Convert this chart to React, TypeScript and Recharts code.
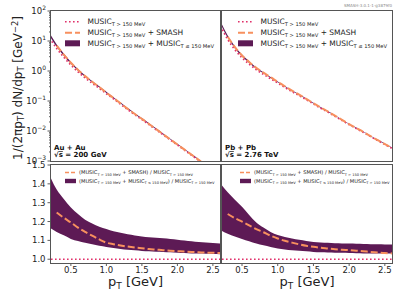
import React from 'react';
import { ComposedChart, Line, Area, XAxis, YAxis, ReferenceLine } from 'recharts';

const pT = [0.2, 0.3, 0.4, 0.5, 0.6, 0.7, 0.8, 0.9, 1.0, 1.1, 1.2, 1.3, 1.4, 1.5, 1.6, 1.7, 1.8, 1.9, 2.0, 2.1, 2.2, 2.3, 2.4, 2.5, 2.6];

const auauMusic = [12.6, 5.62, 2.88, 1.58, 0.933, 0.589, 0.389, 0.263, 0.174, 0.117, 0.0776, 0.0513, 0.0347, 0.024, 0.0162, 0.011, 0.0074, 0.005, 0.0034, 0.00229, 0.00155, 0.00105, 0.00071, 0.00049, 0.00033];
const pbpbMusic = [31.6, 11.2, 5.13, 2.75, 1.7, 1.1, 0.776, 0.55, 0.398, 0.282, 0.204, 0.151, 0.11, 0.0794, 0.0575, 0.0427, 0.0309, 0.0224, 0.0162, 0.012, 0.00891, 0.00646, 0.00479, 0.00355, 0.00263];

const auauSmashRatio = [null, 1.248, 1.22, 1.195, 1.168, 1.145, 1.125, 1.105, 1.088, 1.08, 1.073, 1.067, 1.062, 1.058, 1.054, 1.051, 1.048, 1.045, 1.043, 1.041, 1.039, 1.037, 1.035, 1.034, 1.033];
const auauBandHigh = [1.445, 1.37, 1.32, 1.275, 1.24, 1.21, 1.19, 1.172, 1.16, 1.148, 1.14, 1.132, 1.126, 1.121, 1.117, 1.114, 1.111, 1.108, 1.104, 1.1, 1.096, 1.092, 1.089, 1.086, 1.084];
const auauBandLow = [1.168, 1.145, 1.127, 1.108, 1.097, 1.088, 1.08, 1.071, 1.065, 1.059, 1.054, 1.05, 1.047, 1.044, 1.042, 1.04, 1.039, 1.037, 1.035, 1.033, 1.031, 1.03, 1.029, 1.028, 1.027];

const pbpbSmashRatio = [null, 1.24, 1.218, 1.2, 1.18, 1.16, 1.143, 1.125, 1.11, 1.098, 1.088, 1.079, 1.071, 1.066, 1.061, 1.057, 1.053, 1.05, 1.048, 1.045, 1.042, 1.039, 1.036, 1.033, 1.031];
const pbpbBandHigh = [1.4, 1.355, 1.315, 1.278, 1.235, 1.195, 1.168, 1.145, 1.128, 1.118, 1.11, 1.103, 1.097, 1.092, 1.089, 1.087, 1.085, 1.084, 1.083, 1.082, 1.081, 1.08, 1.079, 1.078, 1.078];
const pbpbBandLow = [1.154, 1.135, 1.12, 1.108, 1.095, 1.083, 1.074, 1.065, 1.057, 1.052, 1.048, 1.045, 1.042, 1.039, 1.037, 1.036, 1.035, 1.034, 1.033, 1.032, 1.031, 1.031, 1.03, 1.03, 1.03];

const xTicks = [0.5, 1.0, 1.5, 2.0, 2.5];
const xTickLabels = ['0.5', '1.0', '1.5', '2.0', '2.5'];
const ratioTicks = [1.0, 1.1, 1.2, 1.3, 1.4, 1.5];
const ratioTickLabels = ['1.0', '1.1', '1.2', '1.3', '1.4', '1.5'];
const logMajorTicks = [0.001, 0.01, 0.1, 1, 10, 100];
const logExponents = ['\u22123', '\u22122', '\u22121', '0', '1', '2'];

const C_DOT = '#e0306a';
const C_DASH = '#f7905e';
const C_BAND = '#5d1a55';
const C_FRAME = '#555';
const C_TEXT = '#222';
const FONT = 'DejaVu Sans';

const logTicks: number[] = [];
logMajorTicks.forEach((m, i) => {
  logTicks.push(m);
  if (i < logMajorTicks.length - 1) {
    for (let k = 2; k <= 9; k++) logTicks.push(+(m * k).toPrecision(3));
  }
});

const spectrumRows = (music: number[], smash: (number | null)[], lo: number[], hi: number[]) =>
  pT.map((x, i) => ({
    pt: x,
    music: music[i],
    smash: smash[i] == null ? null : music[i] * (smash[i] as number),
    band: [music[i] * lo[i], music[i] * hi[i]],
  }));

const ratioRows = (smash: (number | null)[], lo: number[], hi: number[]) =>
  pT.map((x, i) => ({ pt: x, smash: smash[i], band: [lo[i], hi[i]] }));

const auauSpec = spectrumRows(auauMusic, auauSmashRatio, auauBandLow, auauBandHigh);
const pbpbSpec = spectrumRows(pbpbMusic, pbpbSmashRatio, pbpbBandLow, pbpbBandHigh);
const auauRatio = ratioRows(auauSmashRatio, auauBandLow, auauBandHigh);
const pbpbRatio = ratioRows(pbpbSmashRatio, pbpbBandLow, pbpbBandHigh);

const LogTick = (props: any) => {
  const { x, y, payload } = props;
  const v = payload.value;
  const idx = logMajorTicks.findIndex((m) => Math.abs(m - v) < m * 1e-6);
  const major = idx >= 0;
  return (
    <g>
      <line x1={x} x2={x - (major ? 3.5 : 2)} y1={y} y2={y} stroke="#333" strokeWidth={0.8} />
      {major && (
        <text x={x - 5} y={y + 3.2} textAnchor="end" fontSize={8.5} fill={C_TEXT} fontFamily={FONT}>
          10<tspan fontSize={6} dy={-4}>{logExponents[idx]}</tspan>
        </text>
      )}
    </g>
  );
};

const RatioYTick = (props: any) => {
  const { x, y, payload } = props;
  const idx = ratioTicks.findIndex((t) => Math.abs(t - payload.value) < 1e-6);
  return (
    <g>
      <line x1={x} x2={x - 3.5} y1={y} y2={y} stroke="#333" strokeWidth={0.8} />
      <text x={x - 5.5} y={y + 3} textAnchor="end" fontSize={8.5} fill={C_TEXT} fontFamily={FONT}>
        {idx >= 0 ? ratioTickLabels[idx] : ''}
      </text>
    </g>
  );
};

const XTick = (props: any) => {
  const { x, y, payload } = props;
  const idx = xTicks.findIndex((t) => Math.abs(t - payload.value) < 1e-6);
  return (
    <g>
      <line x1={x} x2={x} y1={y} y2={y + 3} stroke="#333" strokeWidth={0.8} />
      <text x={x} y={y + 9.5} textAnchor="middle" fontSize={8.5} fill={C_TEXT} fontFamily={FONT}>
        {idx >= 0 ? xTickLabels[idx] : ''}
      </text>
    </g>
  );
};

const LX0 = 51, LX1 = 220, RX0 = 222, RX1 = 392;
const TY0 = 11, TY1 = 161, BY0 = 165, BY1 = 263;
const YW = 40;
const PAD = 9;

const SpecChart = ({ data, left, showY }: { data: any[]; left: boolean; showY: boolean }) => {
  const w = (left ? LX1 - LX0 : RX1 - RX0) + (showY ? YW : 0);
  return (
    <ComposedChart width={w} height={TY1 - TY0 + 2 * PAD} data={data} margin={{ top: PAD, right: 0, bottom: PAD, left: 0 }}>
      <XAxis dataKey="pt" type="number" domain={[0.22, 2.6]} allowDataOverflow hide />
      <YAxis
        scale="log"
        type="number"
        domain={[0.001, 100]}
        allowDataOverflow
        ticks={logTicks}
        interval={0}
        width={YW}
        hide={!showY}
        axisLine={false}
        tickLine={false}
        tickSize={0}
        tickMargin={0}
        tick={(p: any) => <LogTick {...p} />}
      />
      <Area dataKey="band" type="monotone" stroke="none" fill={C_BAND} fillOpacity={1} isAnimationActive={false} />
      <Line dataKey="music" type="monotone" stroke={C_DOT} strokeWidth={1.6} strokeDasharray="1.6 2.4" dot={false} isAnimationActive={false} />
      <Line dataKey="smash" type="monotone" stroke={C_DASH} strokeWidth={2} strokeDasharray="7 3" dot={false} isAnimationActive={false} />
    </ComposedChart>
  );
};

const RatioChart = ({ data, left, showY }: { data: any[]; left: boolean; showY: boolean }) => {
  const w = (left ? LX1 - LX0 : RX1 - RX0) + (showY ? YW : 0);
  return (
    <ComposedChart width={w} height={BY1 - BY0 + 16 + PAD} data={data} margin={{ top: PAD, right: 0, bottom: 0, left: 0 }}>
      <XAxis
        dataKey="pt"
        type="number"
        domain={[0.22, 2.6]}
        allowDataOverflow
        ticks={xTicks}
        interval={0}
        height={16}
        axisLine={false}
        tickLine={false}
        tickSize={0}
        tickMargin={0}
        tick={(p: any) => <XTick {...p} />}
      />
      <YAxis
        type="number"
        domain={[0.98, 1.5]}
        allowDataOverflow
        ticks={ratioTicks}
        interval={0}
        width={YW}
        hide={!showY}
        axisLine={false}
        tickLine={false}
        tickSize={0}
        tickMargin={0}
        tick={(p: any) => <RatioYTick {...p} />}
      />
      <Area dataKey="band" type="monotone" stroke="none" fill={C_BAND} fillOpacity={1} isAnimationActive={false} />
      <ReferenceLine y={1} stroke={C_DOT} strokeWidth={1.6} strokeDasharray="1.6 2.4" />
      <Line dataKey="smash" type="monotone" stroke={C_DASH} strokeWidth={2} strokeDasharray="7 3" dot={false} isAnimationActive={false} />
    </ComposedChart>
  );
};

const Sub = ({ children, size, dy }: { children: React.ReactNode; size: number; dy: number }) => (
  <tspan fontSize={size} dy={dy}>{children}</tspan>
);

const TopLegend = ({ x }: { x: number }) => {
  const rows = [21.7, 32.7, 43.3];
  const fs = 7.5, ss = 5.2, d = 1.8;
  const tx = x + 22.5;
  return (
    <g fontFamily={FONT} fill={C_TEXT}>
      <line x1={x} x2={x + 15} y1={rows[0]} y2={rows[0]} stroke={C_DOT} strokeWidth={1.6} strokeDasharray="1.6 2.4" />
      <line x1={x} x2={x + 15} y1={rows[1]} y2={rows[1]} stroke={C_DASH} strokeWidth={2} strokeDasharray="7 3" />
      <rect x={x} y={rows[2] - 3} width={15} height={6} fill={C_BAND} />
      <text x={tx} y={rows[0] + 2.7} fontSize={fs}>
        MUSIC<Sub size={ss} dy={d}>T &gt; 150 MeV</Sub>
      </text>
      <text x={tx} y={rows[1] + 2.7} fontSize={fs}>
        MUSIC<Sub size={ss} dy={d}>T &gt; 150 MeV</Sub><tspan dy={-d}> + SMASH</tspan>
      </text>
      <text x={tx} y={rows[2] + 2.7} fontSize={fs}>
        MUSIC<Sub size={ss} dy={d}>T &gt; 150 MeV</Sub><tspan dy={-d}> + MUSIC</tspan>
        <Sub size={ss} dy={d}>T ≤ 150 MeV</Sub>
      </text>
    </g>
  );
};

const BottomLegend = ({ x }: { x: number }) => {
  const rows = [172.5, 181];
  const fs = 5.1, ss = 3.6, d = 1.2;
  const tx = x + 14;
  return (
    <g fontFamily={FONT} fill={C_TEXT}>
      <line x1={x} x2={x + 11} y1={rows[0]} y2={rows[0]} stroke={C_DASH} strokeWidth={1.6} strokeDasharray="4 2" />
      <rect x={x} y={rows[1] - 2.2} width={11} height={4.4} fill={C_BAND} />
      <text x={tx} y={rows[0] + 1.8} fontSize={fs}>
        (MUSIC<Sub size={ss} dy={d}>T &gt; 150 MeV</Sub><tspan dy={-d}> + SMASH) / MUSIC</tspan>
        <Sub size={ss} dy={d}>T &gt; 150 MeV</Sub>
      </text>
      <text x={tx} y={rows[1] + 1.8} fontSize={fs}>
        (MUSIC<Sub size={ss} dy={d}>T &gt; 150 MeV</Sub><tspan dy={-d}> + MUSIC</tspan>
        <Sub size={ss} dy={d}>T ≤ 150 MeV</Sub><tspan dy={-d}>) / MUSIC</tspan>
        <Sub size={ss} dy={d}>T &gt; 150 MeV</Sub>
      </text>
    </g>
  );
};

const Annot = ({ x, sys, energy }: { x: number; sys: string; energy: string }) => (
  <g fontFamily={FONT} fontWeight="bold" fontSize={7} fill="#111">
    <text x={x} y={149.5}>{sys}</text>
    <text x={x} y={157.3}>
      √<tspan style={{ textDecoration: 'overline' }}>s</tspan> = {energy}
    </text>
  </g>
);

export default function App() {
  return (
    <div style={{ position: 'absolute', left: 0, top: 0, width: 399, height: 299, background: '#fff', overflow: 'hidden' }}>
      <div style={{ position: 'absolute', left: LX0 - YW, top: TY0 - PAD }}>
        <SpecChart data={auauSpec} left showY />
      </div>
      <div style={{ position: 'absolute', left: RX0, top: TY0 - PAD }}>
        <SpecChart data={pbpbSpec} left={false} showY={false} />
      </div>
      <div style={{ position: 'absolute', left: LX0 - YW, top: BY0 - PAD }}>
        <RatioChart data={auauRatio} left showY />
      </div>
      <div style={{ position: 'absolute', left: RX0, top: BY0 - PAD }}>
        <RatioChart data={pbpbRatio} left={false} showY={false} />
      </div>
      <svg width={399} height={299} style={{ position: 'absolute', left: 0, top: 0, pointerEvents: 'none' }}>
        <g fill="none" stroke={C_FRAME} strokeWidth={1}>
          <rect x={LX0 - 0.5} y={TY0 - 0.5} width={LX1 - LX0 + 1} height={TY1 - TY0 + 1} />
          <rect x={RX0 - 0.5} y={TY0 - 0.5} width={RX1 - RX0 + 1} height={TY1 - TY0 + 1} />
          <rect x={LX0 - 0.5} y={BY0 - 0.5} width={LX1 - LX0 + 1} height={BY1 - BY0 + 1} />
          <rect x={RX0 - 0.5} y={BY0 - 0.5} width={RX1 - RX0 + 1} height={BY1 - BY0 + 1} />
        </g>
        <TopLegend x={65} />
        <TopLegend x={238} />
        <BottomLegend x={65} />
        <BottomLegend x={240} />
        <Annot x={54} sys="Au + Au" energy="200 GeV" />
        <Annot x={225} sys="Pb + Pb" energy="2.76 TeV" />
        <text x={392} y={7} textAnchor="end" fontSize={4} fill="#888" fontFamily={FONT}>SMASH-3.0.1-1-g3879f0</text>
        <g fontFamily={FONT} fontSize={13} fill={C_TEXT} textAnchor="middle">
          <text x={(LX0 + LX1) / 2} y={286}>
            p<tspan fontSize={9} dy={2.5}>T</tspan><tspan dy={-2.5}> [GeV]</tspan>
          </text>
          <text x={(RX0 + RX1) / 2} y={286}>
            p<tspan fontSize={9} dy={2.5}>T</tspan><tspan dy={-2.5}> [GeV]</tspan>
          </text>
        </g>
        <text
          x={22}
          y={88}
          transform="rotate(-90 22 88)"
          textAnchor="middle"
          fontFamily={FONT}
          fontSize={12}
          fill={C_TEXT}
        >
          1/(2πp<tspan fontSize={8.4} dy={2.4}>T</tspan><tspan dy={-2.4}>) dN/dp</tspan>
          <tspan fontSize={8.4} dy={2.4}>T</tspan><tspan dy={-2.4}> [GeV</tspan>
          <tspan fontSize={8.4} dy={-4.5}>−2</tspan><tspan dy={4.5}>]</tspan>
        </text>
      </svg>
    </div>
  );
}
